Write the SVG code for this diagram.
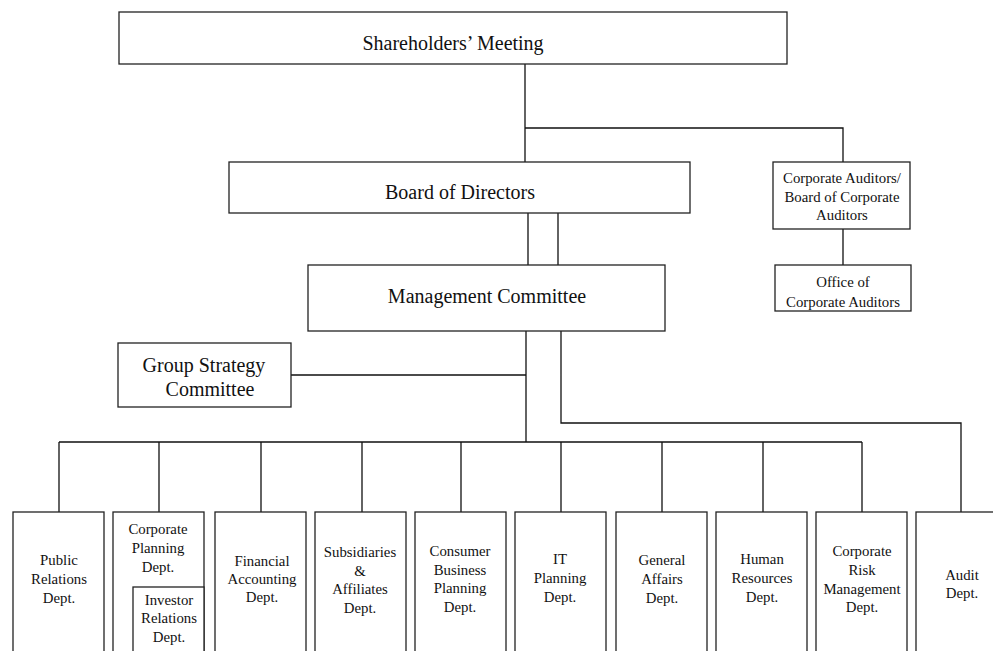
<svg xmlns="http://www.w3.org/2000/svg" width="993" height="651" viewBox="0 0 993 651">
<style>
.b{fill:#fff;stroke:#222;stroke-width:1.3}
.c{fill:none;stroke:#111;stroke-width:1.3}
text{font-family:"Liberation Serif","Times New Roman",serif;fill:#111;text-anchor:middle}
.L{font-size:20px}
.s{font-size:14.8px}
</style>
<rect width="993" height="651" fill="#fff"/>
<g id="connectors">
<path class="c" d="M525 64V162M525 128H843V162M843 229V265M528 213V265M558 213V265M526 331V442M291 375H526M561 331V423H961V512M59 442H862"/>
<path class="c" d="M59 442V512M159 442V512M261 442V512M362 442V512M461 442V512M561 442V512M662 442V512M763 442V512M862 442V512"/>
</g>
<g id="shareholders"><rect class="b" x="119" y="12" width="668" height="52"/><text class="L" x="453" y="50">Shareholders’ Meeting</text></g>
<g id="board"><rect class="b" x="229" y="162" width="461" height="51"/><text class="L" x="460" y="199">Board of Directors</text></g>
<g id="auditors"><rect class="b" x="773" y="162" width="137" height="67"/><text class="s" x="842" y="183">Corporate Auditors/</text><text class="s" x="842" y="202">Board of Corporate</text><text class="s" x="842" y="220">Auditors</text></g>
<g id="office"><rect class="b" x="775" y="265" width="136" height="46"/><text class="s" x="843" y="287">Office of</text><text class="s" x="843" y="307">Corporate Auditors</text></g>
<g id="mgmt"><rect class="b" x="308" y="265" width="357" height="66"/><text class="L" x="487" y="303">Management Committee</text></g>
<g id="group"><rect class="b" x="118" y="343" width="173" height="64"/><text class="L" x="204" y="372">Group Strategy</text><text class="L" x="210" y="396">Committee</text></g>
<g id="pr"><rect class="b" x="13" y="512" width="91" height="150"/><text class="s" x="59" y="565">Public</text><text class="s" x="59" y="584">Relations</text><text class="s" x="59" y="603">Dept.</text></g>
<g id="cp"><rect class="b" x="113" y="512" width="91" height="150"/><text class="s" x="158" y="534">Corporate</text><text class="s" x="158" y="553">Planning</text><text class="s" x="158" y="572">Dept.</text></g>
<g id="ir"><rect class="b" x="133" y="587" width="71" height="75"/><text class="s" x="169" y="605">Investor</text><text class="s" x="169" y="623">Relations</text><text class="s" x="169" y="642">Dept.</text></g>
<g id="fa"><rect class="b" x="215" y="512" width="91" height="150"/><text class="s" x="262" y="566">Financial</text><text class="s" x="262" y="584">Accounting</text><text class="s" x="262" y="602">Dept.</text></g>
<g id="sa"><rect class="b" x="315" y="512" width="91" height="150"/><text class="s" x="360" y="557">Subsidiaries</text><text class="s" x="360" y="576">&amp;</text><text class="s" x="360" y="594">Affiliates</text><text class="s" x="360" y="613">Dept.</text></g>
<g id="cb"><rect class="b" x="415" y="512" width="91" height="150"/><text class="s" x="460" y="556">Consumer</text><text class="s" x="460" y="575">Business</text><text class="s" x="460" y="593">Planning</text><text class="s" x="460" y="612">Dept.</text></g>
<g id="it"><rect class="b" x="515" y="512" width="91" height="150"/><text class="s" x="560" y="564">IT</text><text class="s" x="560" y="583">Planning</text><text class="s" x="560" y="602">Dept.</text></g>
<g id="ga"><rect class="b" x="616" y="512" width="91" height="150"/><text class="s" x="662" y="565">General</text><text class="s" x="662" y="584">Affairs</text><text class="s" x="662" y="603">Dept.</text></g>
<g id="hr"><rect class="b" x="716" y="512" width="91" height="150"/><text class="s" x="762" y="564">Human</text><text class="s" x="762" y="583">Resources</text><text class="s" x="762" y="602">Dept.</text></g>
<g id="rm"><rect class="b" x="816" y="512" width="91" height="150"/><text class="s" x="862" y="556">Corporate</text><text class="s" x="862" y="575">Risk</text><text class="s" x="862" y="594">Management</text><text class="s" x="862" y="612">Dept.</text></g>
<g id="audit"><rect class="b" x="916" y="512" width="92" height="150"/><text class="s" x="962" y="580">Audit</text><text class="s" x="962" y="598">Dept.</text></g>
</svg>
